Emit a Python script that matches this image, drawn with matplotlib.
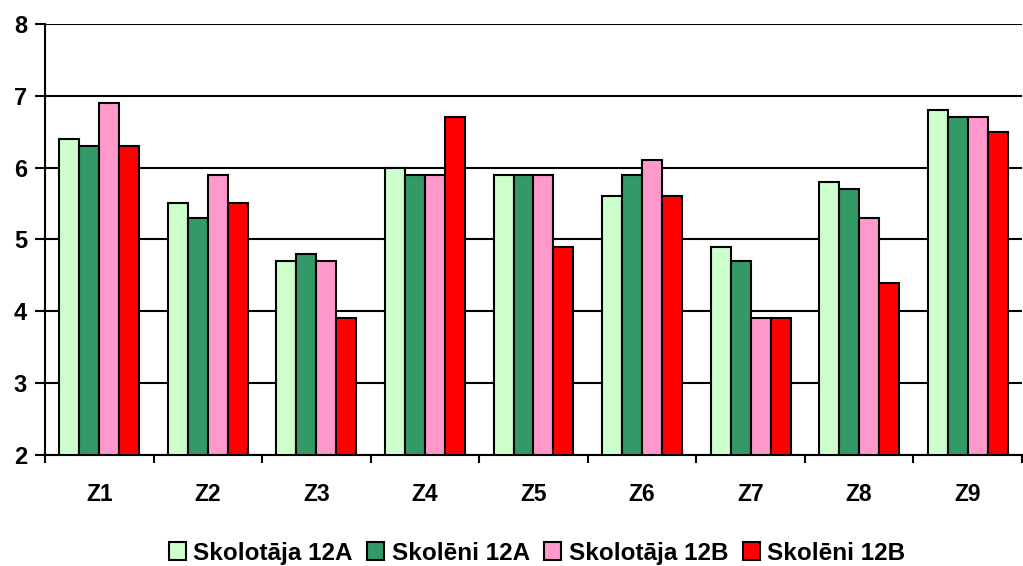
import matplotlib.pyplot as plt
import numpy as np

plt.rcParams['font.family'] = ['Liberation Sans', 'DejaVu Sans']
plt.rcParams['font.weight'] = 'bold'

categories = ['Z1', 'Z2', 'Z3', 'Z4', 'Z5', 'Z6', 'Z7', 'Z8', 'Z9']
series_names = ['Skolotāja 12A', 'Skolēni 12A', 'Skolotāja 12B', 'Skolēni 12B']
skolotaja_12a = [6.4, 5.5, 4.7, 6.0, 5.9, 5.6, 4.9, 5.8, 6.8]
skoleni_12a = [6.3, 5.3, 4.8, 5.9, 5.9, 5.9, 4.7, 5.7, 6.7]
skolotaja_12b = [6.9, 5.9, 4.7, 5.9, 5.9, 6.1, 3.9, 5.3, 6.7]
skoleni_12b = [6.3, 5.5, 3.9, 6.7, 4.9, 5.6, 3.9, 4.4, 6.5]
colors = ['#ccffcc', '#339966', '#ff99cc', '#ff0000']

fig = plt.figure(figsize=(10.23, 5.66), dpi=100)
ax = fig.add_axes([0.044, 0.196, 0.955, 0.762])

x = np.arange(len(categories))
w = 0.184
data = [skolotaja_12a, skoleni_12a, skolotaja_12b, skoleni_12b]
for i, (vals, name, c) in enumerate(zip(data, series_names, colors)):
    ax.bar(x + (i - 1.5) * w, np.array(vals) - 2, width=w, bottom=2,
           color=c, edgecolor='black', linewidth=1.5, label=name, zorder=3)

ax.set_xlim(-0.5, len(categories) - 0.5)
ax.set_ylim(2, 8)
ax.set_yticks(range(2, 9))
ax.yaxis.grid(True, color='black', linewidth=1.5, zorder=0)
for s in ['top', 'right']:
    ax.spines[s].set_visible(False)
ax.spines['left'].set_linewidth(1.5)
ax.spines['bottom'].set_linewidth(1.5)

ax.set_xticks(x)
ax.set_xticklabels(categories, fontsize=16.5, fontweight='bold')
ax.tick_params(axis='x', length=0, pad=20)
ax.set_xticks(np.arange(-0.5, len(categories)), minor=True)
ax.tick_params(axis='x', which='minor', length=6, width=1.5)
ax.tick_params(axis='y', length=7, width=1.5, labelsize=17, pad=6)
for lbl in ax.get_yticklabels():
    lbl.set_fontweight('bold')

fig.legend(loc='lower center', bbox_to_anchor=(0.525, -0.036), ncol=4,
           frameon=False, handlelength=0.7, handleheight=0.7,
           handletextpad=0.3, columnspacing=0.6,
           prop={'weight': 'bold', 'size': 17.5})

fig.savefig('out.png', dpi=100)
